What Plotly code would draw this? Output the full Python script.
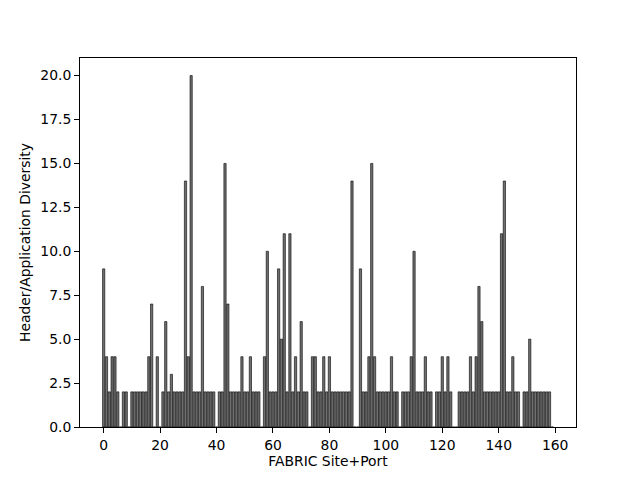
import plotly.graph_objects as go

site_port = list(range(160))
diversity = [
    9, 4, 2, 4, 4, 2, 0, 2, 2, 0,
    2, 2, 2, 2, 2, 2, 4, 7, 0, 4,
    0, 2, 6, 2, 3, 2, 2, 2, 2, 14,
    4, 20, 2, 2, 2, 8, 2, 2, 2, 2,
    0, 2, 2, 15, 7, 2, 2, 2, 2, 4,
    2, 2, 4, 2, 2, 2, 0, 4, 10, 2,
    2, 2, 9, 5, 11, 2, 11, 2, 4, 2,
    6, 2, 2, 0, 4, 4, 2, 2, 4, 2,
    4, 2, 2, 2, 2, 2, 2, 2, 14, 0,
    0, 9, 2, 2, 4, 15, 4, 2, 2, 2,
    2, 2, 4, 2, 2, 0, 2, 2, 2, 4,
    10, 2, 2, 2, 4, 2, 2, 0, 2, 2,
    4, 2, 4, 2, 0, 0, 2, 2, 2, 2,
    4, 2, 4, 8, 6, 2, 2, 2, 2, 2,
    2, 11, 14, 2, 2, 4, 2, 2, 0, 2,
    2, 5, 2, 2, 2, 2, 2, 2, 2, 0,
]
x_ticks = [0, 20, 40, 60, 80, 100, 120, 140, 160]
y_ticks = [0.0, 2.5, 5.0, 7.5, 10.0, 12.5, 15.0, 17.5, 20.0]

fig = go.Figure(
    go.Bar(
        x=site_port,
        y=diversity,
        width=0.8,
        marker=dict(color="#707070", line=dict(color="black", width=0.6)),
    )
)

font = dict(family="DejaVu Sans", size=13.9, color="black")
axis_common = dict(
    showline=True, mirror=True, linecolor="black", linewidth=1.1,
    ticks="outside", ticklen=4.9, tickwidth=1.1, tickcolor="black",
    showgrid=False, zeroline=False, tickfont=font,
)

fig.update_layout(
    width=632, height=472,
    margin=dict(l=72, r=64, t=50, b=53),
    paper_bgcolor="white", plot_bgcolor="white",
    font=font,
    showlegend=False,
    xaxis=dict(
        range=[-8.39, 167.39], tickmode="array", tickvals=x_ticks,
        ticktext=[str(v) for v in x_ticks],
        title=dict(text="FABRIC Site+Port", font=font, standoff=4),
        **axis_common,
    ),
    yaxis=dict(
        range=[0, 21], tickmode="array", tickvals=y_ticks,
        ticktext=[f"{v:.1f}" for v in y_ticks],
        title=dict(text="Header/Application Diversity", font=font, standoff=6),
        **axis_common,
    ),
)

fig.write_html("out.html")
